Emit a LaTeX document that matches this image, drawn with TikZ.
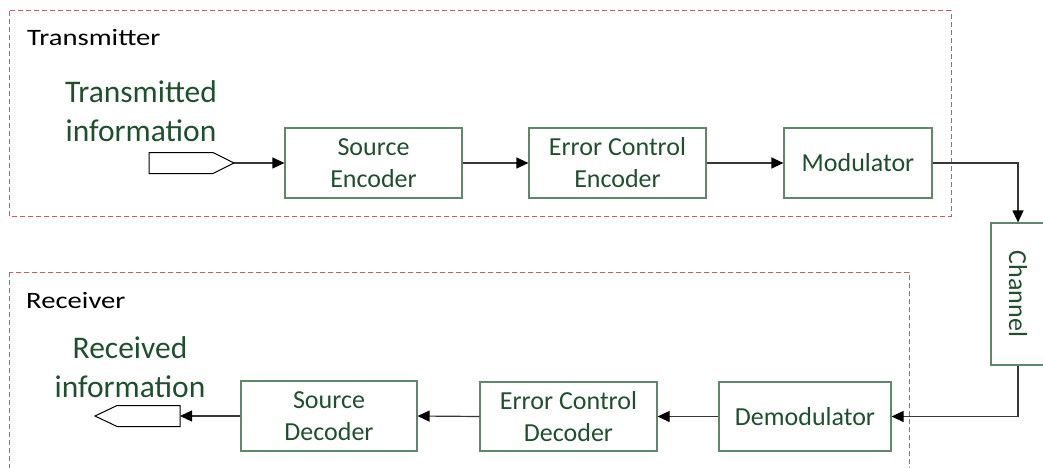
\documentclass[tikz,border=0pt]{standalone}
\usepackage{fontspec}
\setmainfont{Carlito}
\usetikzlibrary{arrows.meta}
\definecolor{txtgreen}{RGB}{30,80,45}
\definecolor{edgegreen}{RGB}{95,135,105}
\definecolor{zonered}{RGB}{200,95,95}
\definecolor{wire}{RGB}{55,55,55}
\begin{document}
\begin{tikzpicture}[x=1pt,y=-1pt,
  block/.style={draw=edgegreen,line width=1.2pt,text=txtgreen,
    font=\fontsize{26}{32}\selectfont,align=center,inner sep=0pt,minimum height=70pt},
  zone/.style={draw=zonered,line width=1pt,dash pattern=on 5pt off 3pt},
  zonelabel/.style={anchor=base west,inner sep=0pt,font=\fontsize{23.5}{27}\selectfont},
  infolabel/.style={text=txtgreen,align=center,inner sep=0pt,font=\fontsize{31.5}{39}\selectfont},
  port/.style={draw=black,line width=1pt,fill=white},
  flow/.style={draw=wire,line width=1.2pt,-{Triangle[length=12pt,width=11pt,color=black]}}]
\useasboundingbox (0,0) rectangle (1043,468);
\clip (0,0) rectangle (1043,468);

% transmitter and receiver zones
\draw[zone] (9,11) rectangle (951,216);
\draw[zone] (9,272) rectangle (909,490);
\node[zonelabel] (txlabel) at (27,46) {\scalebox{1.22}[1]{Transmitter}};
\node[zonelabel] (rxlabel) at (26,308) {\scalebox{1.22}[1]{Receiver}};

% information source and sink labels
\node[infolabel] (txinfo) at (141,111.5) {Transmitted\\information};
\node[infolabel] (rxinfo) at (130,367) {Received\\information};

% input and output ports
\coordinate (intip) at (234,163);
\draw[port] (intip) -- (213,152.5) -- (149,152.5) -- (149,173.5) -- (213,173.5) -- cycle;
\coordinate (outend) at (180,416);
\draw[port] (180,405.5) -- (117,405.5) -- (95,416) -- (117,426.5) -- (180,426.5) -- cycle;

% transmitter chain
\node[block,minimum width=177pt] (se)  at (373.5,163) {Source\\Encoder};
\node[block,minimum width=177pt] (ece) at (617.5,163) {Error Control\\Encoder};
\node[block,minimum width=148pt] (mod) at (858,163) {Modulator};

% channel
\node[block,minimum width=54pt,minimum height=142pt] (ch) at (1018,294) {\rotatebox{-90}{Channel}};

% receiver chain
\node[block,minimum width=172pt,minimum height=69pt] (dem) at (805,416.5) {Demodulator};
\node[block,minimum width=177pt,minimum height=69pt] (ecd) at (568.5,416.5) {Error Control\\Decoder};
\node[block,minimum width=176pt] (sd)  at (329,416) {Source\\Decoder};

% signal flow
\draw[flow] (intip) -- (se.west);
\draw[flow] (se.east) -- (ece.west);
\draw[flow] (ece.east) -- (mod.west);
\draw[flow] (mod.east) -| (ch.north);
\draw[flow] (ch.south) |- (dem.east);
\draw[flow] (dem.west) -- (ecd.east);
\draw[flow] (ecd.west) -- (sd.east);
\draw[flow] (sd.west) -- (outend);
\end{tikzpicture}
\end{document}
